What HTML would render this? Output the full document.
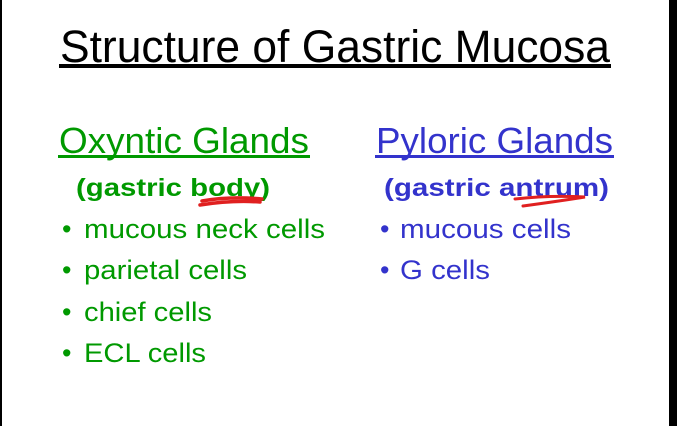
<!DOCTYPE html>
<html><head><meta charset="utf-8"><style>
html,body{margin:0;padding:0;background:#fff;}
svg{display:block;}
</style></head><body>
<svg width="677" height="426" viewBox="0 0 677 426" xmlns="http://www.w3.org/2000/svg" font-family="Liberation Sans, Arial, sans-serif">
<rect x="0" y="0" width="677" height="426" fill="#fff"/>
<rect x="0" y="0" width="2" height="426" fill="#000"/>
<rect x="669" y="0" width="8" height="426" fill="#000"/>
<text x="60" y="62" font-size="45" fill="#000" textLength="550" lengthAdjust="spacingAndGlyphs">Structure of Gastric Mucosa</text>
<rect x="59" y="64" width="552" height="4" fill="#000"/>
<text x="59" y="153" font-size="36" fill="#009900" textLength="250" lengthAdjust="spacingAndGlyphs">Oxyntic Glands</text>
<rect x="58" y="155" width="252" height="3" fill="#009900"/>
<text x="376" y="153" font-size="36" fill="#3333cc" textLength="237" lengthAdjust="spacingAndGlyphs">Pyloric Glands</text>
<rect x="375" y="155" width="239" height="3" fill="#3333cc"/>
<text x="76" y="196" font-size="25" font-weight="bold" fill="#009900" textLength="194" lengthAdjust="spacingAndGlyphs">(gastric body)</text>
<text x="384" y="196" font-size="25" font-weight="bold" fill="#3333cc" textLength="225" lengthAdjust="spacingAndGlyphs">(gastric antrum)</text>
<path d="M202 201 Q230 196 262 199 M200 205 Q232 200 260 202" stroke="#e02020" stroke-width="3.5" fill="none" stroke-linecap="round"/>
<path d="M515 199 Q550 195 585 197 Q560 201 523 206" stroke="#e02020" stroke-width="3" fill="none" stroke-linecap="round"/>
<g font-size="27" fill="#009900">
<text x="62" y="238">•</text><text x="84" y="238" textLength="241" lengthAdjust="spacingAndGlyphs">mucous neck cells</text>
<text x="62" y="279">•</text><text x="84" y="279" textLength="163" lengthAdjust="spacingAndGlyphs">parietal cells</text>
<text x="62" y="321">•</text><text x="84" y="321" textLength="128" lengthAdjust="spacingAndGlyphs">chief cells</text>
<text x="62" y="362">•</text><text x="84" y="362" textLength="122" lengthAdjust="spacingAndGlyphs">ECL cells</text>
</g>
<g font-size="27" fill="#3333cc">
<text x="380" y="238">•</text><text x="400" y="238" textLength="171" lengthAdjust="spacingAndGlyphs">mucous cells</text>
<text x="380" y="279">•</text><text x="400" y="279" textLength="90" lengthAdjust="spacingAndGlyphs">G cells</text>
</g>
</svg>
</body></html>
